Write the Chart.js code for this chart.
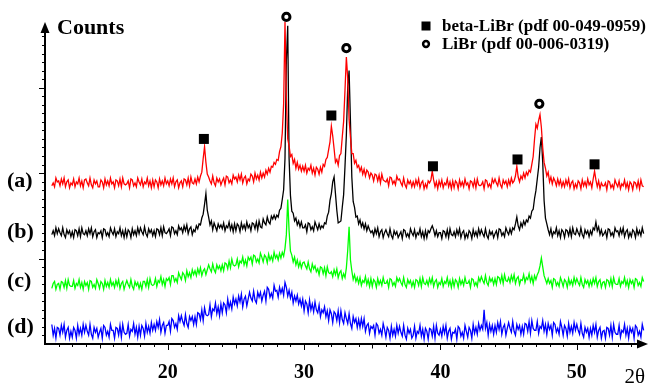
<!DOCTYPE html>
<html><head><meta charset="utf-8">
<script src="https://cdn.jsdelivr.net/npm/chart.js@4/dist/chart.umd.min.js"></script>
<style>html,body{margin:0;padding:0;background:#fff;}#wrap{width:654px;height:384px;}</style>
</head><body><div id="wrap"><canvas id="c" width="654" height="384"></canvas></div>
<script>
// 2-theta angles (degrees), one row per degree
const TWO_THETA = [11.5,11.6,11.7,11.8,11.9,
12,12.1,12.2,12.3,12.4,12.5,12.6,12.7,12.8,12.9,
13,13.1,13.2,13.3,13.4,13.5,13.6,13.7,13.8,13.9,
14,14.1,14.2,14.3,14.4,14.5,14.6,14.7,14.8,14.9,
15,15.1,15.2,15.3,15.4,15.5,15.6,15.7,15.8,15.9,
16,16.1,16.2,16.3,16.4,16.5,16.6,16.7,16.8,16.9,
17,17.1,17.2,17.3,17.4,17.5,17.6,17.7,17.8,17.9,
18,18.1,18.2,18.3,18.4,18.5,18.6,18.7,18.8,18.9,
19,19.1,19.2,19.3,19.4,19.5,19.6,19.7,19.8,19.9,
20,20.1,20.2,20.3,20.4,20.5,20.6,20.7,20.8,20.9,
21,21.1,21.2,21.3,21.4,21.5,21.6,21.7,21.8,21.9,
22,22.1,22.2,22.3,22.4,22.5,22.6,22.7,22.8,22.9,
23,23.1,23.2,23.3,23.4,23.5,23.6,23.7,23.8,23.9,
24,24.1,24.2,24.3,24.4,24.5,24.6,24.7,24.8,24.9,
25,25.1,25.2,25.3,25.4,25.5,25.6,25.7,25.8,25.9,
26,26.1,26.2,26.3,26.4,26.5,26.6,26.7,26.8,26.9,
27,27.1,27.2,27.3,27.4,27.5,27.6,27.7,27.8,27.9,
28,28.1,28.2,28.3,28.4,28.5,28.6,28.7,28.8,28.9,
29,29.1,29.2,29.3,29.4,29.5,29.6,29.7,29.8,29.9,
30,30.1,30.2,30.3,30.4,30.5,30.6,30.7,30.8,30.9,
31,31.1,31.2,31.3,31.4,31.5,31.6,31.7,31.8,31.9,
32,32.1,32.2,32.3,32.4,32.5,32.6,32.7,32.8,32.9,
33,33.1,33.2,33.3,33.4,33.5,33.6,33.7,33.8,33.9,
34,34.1,34.2,34.3,34.4,34.5,34.6,34.7,34.8,34.9,
35,35.1,35.2,35.3,35.4,35.5,35.6,35.7,35.8,35.9,
36,36.1,36.2,36.3,36.4,36.5,36.6,36.7,36.8,36.9,
37,37.1,37.2,37.3,37.4,37.5,37.6,37.7,37.8,37.9,
38,38.1,38.2,38.3,38.4,38.5,38.6,38.7,38.8,38.9,
39,39.1,39.2,39.3,39.4,39.5,39.6,39.7,39.8,39.9,
40,40.1,40.2,40.3,40.4,40.5,40.6,40.7,40.8,40.9,
41,41.1,41.2,41.3,41.4,41.5,41.6,41.7,41.8,41.9,
42,42.1,42.2,42.3,42.4,42.5,42.6,42.7,42.8,42.9,
43,43.1,43.2,43.3,43.4,43.5,43.6,43.7,43.8,43.9,
44,44.1,44.2,44.3,44.4,44.5,44.6,44.7,44.8,44.9,
45,45.1,45.2,45.3,45.4,45.5,45.6,45.7,45.8,45.9,
46,46.1,46.2,46.3,46.4,46.5,46.6,46.7,46.8,46.9,
47,47.1,47.2,47.3,47.4,47.5,47.6,47.7,47.8,47.9,
48,48.1,48.2,48.3,48.4,48.5,48.6,48.7,48.8,48.9,
49,49.1,49.2,49.3,49.4,49.5,49.6,49.7,49.8,49.9,
50,50.1,50.2,50.3,50.4,50.5,50.6,50.7,50.8,50.9,
51,51.1,51.2,51.3,51.4,51.5,51.6,51.7,51.8,51.9,
52,52.1,52.2,52.3,52.4,52.5,52.6,52.7,52.8,52.9,
53,53.1,53.2,53.3,53.4,53.5,53.6,53.7,53.8,53.9,
54,54.1,54.2,54.3,54.4,54.5,54.6,54.7,54.8,54.9];

// (a) red
const SERIES_A = [162,165,161,170,166,
167,162,169,164,170,161,166,168,160,165,
163,169,161,166,164,170,162,167,160,168,
169,165,162,170,163,160,168,164,167,161,
161,168,166,160,169,163,167,162,170,164,
166,160,168,167,162,169,161,170,164,163,
164,167,160,169,168,162,165,161,170,166,
163,169,161,166,164,170,162,167,160,168,
161,168,166,160,169,163,167,162,170,164,
167,162,169,164,170,161,166,168,160,165,
167,161,169,168,163,170,162,171,165,164,
169,164,171,166,172,176,190,202,186,174,
171,167,164,172,165,162,170,166,169,163,
167,170,163,172,171,165,168,164,173,169,
171,166,173,168,174,165,170,172,164,169,
167,174,172,166,175,169,173,168,176,170,
175,171,178,174,180,176,182,181,186,184,
189,188,197,202,216,246,330,252,210,203,
192,194,185,189,180,186,179,183,177,182,
177,183,175,180,178,183,175,180,173,181,
179,174,181,176,184,182,189,191,199,207,
223,213,200,186,189,183,193,195,212,228,
260,294,272,230,212,195,195,185,188,181,
183,177,181,174,179,172,178,176,170,175,
173,167,174,173,167,173,165,174,168,167,
166,169,162,171,170,164,167,163,172,168,
169,165,162,170,163,160,168,164,167,161,
166,161,168,163,169,160,165,167,159,164,
160,167,165,168,177,168,161,166,159,167,
162,168,160,165,163,169,161,166,159,167,
160,167,165,159,168,162,166,161,169,163,
165,159,167,166,161,168,160,169,163,162,
163,166,159,168,167,161,164,160,169,165,
169,165,162,170,163,160,168,164,167,161,
168,163,170,165,167,172,182,171,166,172,
169,175,170,176,173,178,176,184,192,210,
225,221,229,235,222,201,186,180,172,176,
166,171,164,170,167,162,169,163,168,161,
166,161,168,163,169,160,165,167,159,164,
160,167,165,159,168,162,166,161,169,163,
166,160,169,177,168,161,167,159,165,162,
162,165,158,167,166,160,163,159,168,164,
161,167,159,164,162,168,160,165,158,166,
164,158,166,165,160,167,159,168,162,161];

// (b) black
const SERIES_B = [112,116,111,119,113,
118,114,111,119,112,109,117,113,116,110,
115,109,117,116,111,118,110,119,113,112,
116,111,118,113,119,110,115,117,109,114,
113,116,109,118,117,111,114,110,119,115,
112,118,110,115,113,119,111,116,109,117,
110,117,115,109,118,112,116,111,119,113,
119,115,112,120,113,110,118,114,117,111,
116,110,118,117,112,119,111,120,114,113,
115,118,111,120,119,113,116,112,121,117,
119,114,121,116,122,113,118,120,112,117,
115,121,118,123,122,129,133,143,154,137,
130,122,126,117,124,120,116,123,119,122,
118,124,116,121,119,125,117,122,115,123,
116,123,121,115,124,118,122,117,125,119,
122,116,124,123,118,125,117,126,120,119,
128,124,122,130,125,123,131,128,132,128,
132,130,137,139,148,158,190,290,326,190,
152,136,134,126,129,122,126,120,125,119,
119,122,115,124,123,117,120,116,125,121,
117,123,118,121,119,124,123,131,135,147,
154,166,171,154,137,124,125,126,140,153,
182,214,263,280,228,171,146,140,130,131,
123,127,120,124,118,123,116,121,117,114,
116,111,118,113,119,110,115,117,109,114,
117,113,110,118,111,108,116,112,115,109,
112,115,108,117,116,110,113,109,118,114,
111,117,109,114,112,118,110,115,108,116,
109,116,114,118,121,117,111,116,110,114,
114,108,116,115,110,117,109,118,112,111,
115,110,117,112,118,109,114,116,108,113,
109,116,114,108,117,111,115,110,118,112,
117,113,110,118,111,108,116,112,115,109,
113,116,109,118,117,111,114,110,119,115,
112,118,113,119,117,123,130,121,117,124,
120,126,122,127,125,131,129,136,138,149,
157,169,181,201,212,186,147,129,123,117,
112,118,110,115,113,119,111,116,109,117,
115,109,117,116,111,118,110,119,113,112,
118,114,111,119,112,109,117,113,116,110,
116,112,119,117,125,116,120,112,117,111,
113,116,109,118,117,111,114,110,119,115,
116,111,118,113,119,110,115,117,109,114,
110,117,115,109,118,112,116,111,119,113];

// (c) green
const SERIES_C = [57,62,64,56,61,
62,56,64,63,58,65,57,66,60,59,
59,65,57,62,60,66,58,63,56,64,
60,63,56,65,64,58,61,57,66,62,
57,64,62,56,65,59,63,58,66,60,
63,58,65,60,66,57,62,64,56,61,
65,61,58,66,59,56,64,60,63,57,
62,56,64,64,59,66,58,67,61,60,
61,67,59,65,63,69,61,66,59,67,
65,68,61,70,70,64,67,63,73,69,
66,73,71,65,75,69,73,68,76,71,
75,70,77,72,78,70,75,77,71,76,
81,77,74,82,76,73,81,77,80,75,
81,75,83,82,77,85,78,87,81,80,
81,87,79,85,83,89,81,86,80,89,
86,89,82,91,90,84,87,83,93,89,
84,91,89,83,92,86,90,85,94,88,
91,86,93,88,94,90,98,112,148,116,
95,91,84,89,81,86,79,84,78,83,
84,80,77,84,77,74,82,77,80,74,
77,71,79,78,72,78,70,79,73,72,
74,69,76,71,77,68,73,75,67,72,
68,78,96,120,86,75,66,71,64,68,
62,68,60,65,63,69,61,66,59,67,
59,66,64,58,67,61,65,60,68,62,
62,65,58,67,66,60,63,59,68,64,
67,63,60,68,61,58,66,62,65,59,
64,58,66,65,60,67,59,68,62,61,
65,60,67,62,68,59,64,66,58,63,
61,67,59,64,62,68,60,65,58,66,
59,66,64,58,67,61,65,60,68,62,
62,65,58,67,66,60,63,59,68,64,
69,65,62,70,63,60,68,64,67,61,
67,61,69,68,63,70,62,71,65,64,
68,63,70,65,71,62,67,69,61,66,
65,71,63,68,66,72,64,69,62,70,
66,71,74,80,88,79,70,66,62,67,
62,65,58,67,66,60,63,59,68,64,
59,66,64,58,67,61,65,60,68,62,
67,63,60,68,61,58,66,62,65,59,
65,60,67,62,68,59,64,66,58,63,
64,58,66,65,60,67,59,68,62,61,
61,67,59,64,62,68,60,65,58,66,
62,65,58,67,66,60,63,59,68,64];

// (d) blue
const SERIES_D = [20,9,16,6,17,
16,9,19,12,20,7,14,17,6,13,
7,17,14,6,19,10,16,9,20,12,
19,13,9,20,10,6,17,12,16,7,
12,16,6,19,17,9,13,7,20,14,
14,6,17,16,9,19,7,20,12,10,
11,20,8,15,13,21,10,17,7,18,
9,19,16,8,21,12,18,11,22,14,
20,14,23,17,25,12,19,22,11,19,
19,23,13,26,24,17,21,15,29,23,
29,23,19,30,21,17,28,24,28,20,
28,20,32,31,25,35,24,37,30,29,
30,40,28,36,34,42,31,38,29,41,
32,42,40,32,46,37,43,36,48,41,
46,39,49,43,51,38,46,49,39,46,
53,47,44,54,45,42,53,48,53,44,
50,54,44,58,56,48,52,47,60,54,
55,48,58,52,57,50,63,58,49,55,
47,53,42,49,44,50,41,46,39,46,
34,44,41,32,45,35,41,33,43,35,
32,40,28,35,32,38,28,34,24,35,
31,22,33,31,24,34,22,34,25,21,
32,26,21,31,21,16,28,22,26,17,
25,17,26,18,26,13,19,21,11,18,
16,19,9,21,19,11,15,9,21,15,
7,17,14,6,18,9,15,8,19,11,
18,12,8,19,9,5,16,11,15,6,
9,18,6,13,11,19,8,15,5,16,
13,5,16,15,8,18,6,19,11,9,
15,8,18,11,19,6,13,16,5,12,
11,15,5,18,16,8,12,6,19,13,
7,17,14,6,20,11,17,10,21,14,
19,15,35,16,22,9,20,13,19,10,
19,12,22,15,23,10,17,20,9,16,
22,16,12,23,13,9,20,15,19,10,
18,10,21,20,13,23,11,24,16,14,
14,23,11,18,16,24,13,20,10,21,
15,19,9,22,20,12,16,10,23,17,
9,19,16,8,21,12,18,11,22,14,
20,14,10,21,11,7,17,12,16,7,
16,9,19,12,20,7,14,17,6,13,
14,6,17,16,9,19,7,20,12,10,
10,19,7,14,12,20,9,16,6,17,
12,16,6,19,17,9,13,7,20,14];

// peak markers
const BETA_X = [22.65, 32.0, 39.45, 45.65, 51.3];
const BETA_Y = [210, 234, 182, 189, 184];
const LIBR_X = [28.7, 33.1, 47.25];
const LIBR_Y = [335, 303, 246];

const X_TICKS = [20, 30, 40, 50];
const SERIES_LABELS = ['(a)', '(b)', '(c)', '(d)'];
const LEGEND_LABELS = ['beta-LiBr (pdf 00-049-0959)', 'LiBr (pdf 00-006-0319)'];

const SERIF = "'Liberation Serif', 'Times New Roman', serif";
const toXY = (xs, ys) => xs.map((t, i) => ({x: t, y: ys[i]}));

const decor = {
  id: 'decor',
  afterDatasetsDraw(chart) {
    const {ctx, chartArea: a, scales: {x, y}} = chart;
    ctx.save();
    ctx.strokeStyle = '#000';
    ctx.fillStyle = '#000';
    // x axis with arrow
    ctx.lineWidth = 2;
    ctx.beginPath(); ctx.moveTo(a.left - 1, a.bottom); ctx.lineTo(a.right - 5, a.bottom); ctx.stroke();
    ctx.beginPath(); ctx.moveTo(a.right + 3, a.bottom); ctx.lineTo(a.right - 8, a.bottom - 4.5);
    ctx.lineTo(a.right - 8, a.bottom + 4.5); ctx.closePath(); ctx.fill();
    // y axis with arrow
    const tipY = a.top + 10;
    ctx.beginPath(); ctx.moveTo(a.left, a.bottom + 1); ctx.lineTo(a.left, tipY + 6); ctx.stroke();
    ctx.beginPath(); ctx.moveTo(a.left, tipY); ctx.lineTo(a.left - 4.5, tipY + 11);
    ctx.lineTo(a.left + 4.5, tipY + 11); ctx.closePath(); ctx.fill();
    // x ticks
    ctx.lineWidth = 1;
    for (let v = Math.ceil(x.min + 0.5); v < x.max - 0.5; v++) {
      const px = Math.round(x.getPixelForValue(v)) + 0.5;
      const len = v % 10 === 0 ? 6 : (v % 5 === 0 ? 4.5 : 3);
      ctx.beginPath(); ctx.moveTo(px, a.bottom); ctx.lineTo(px, a.bottom + len); ctx.stroke();
    }
    // y ticks
    for (let k = 1; k * 8.75 <= 318; k++) {
      const py = Math.round(y.getPixelForValue(k * 8.75)) + 0.5;
      const len = k % 10 === 0 ? 6 : 3;
      ctx.beginPath(); ctx.moveTo(a.left - len, py); ctx.lineTo(a.left, py); ctx.stroke();
    }
    // texts
    ctx.textAlign = 'left';
    ctx.textBaseline = 'alphabetic';
    ctx.font = 'bold 22px ' + SERIF;
    ctx.fillText('Counts', a.left + 12, a.top + 22);
    const levels = [166, 114, 64, 16];
    SERIES_LABELS.forEach((s, i) => ctx.fillText(s, 7, y.getPixelForValue(levels[i]) + 5));
    ctx.font = '21px ' + SERIF;
    ctx.textAlign = 'right';
    ctx.fillText('2\u03B8', a.right, 383);
    // legend
    ctx.textAlign = 'left';
    ctx.font = 'bold 17px ' + SERIF;
    const lx = 426;
    ctx.fillRect(lx - 4.5, 21.5, 9, 9);
    ctx.fillText(LEGEND_LABELS[0], 442, 31);
    ctx.lineWidth = 2.5;
    ctx.beginPath(); ctx.arc(lx, 44, 2.9, 0, Math.PI * 2); ctx.stroke();
    ctx.fillText(LEGEND_LABELS[1], 442, 49);
    ctx.restore();
  }
};

const lineDs = (label, ys, color, order) => ({
  label, data: toXY(TWO_THETA, ys), borderColor: color, backgroundColor: color,
  borderWidth: 1.3, pointRadius: 0, tension: 0, order
});

new Chart(document.getElementById('c'), {
  type: 'line',
  data: {
    datasets: [
      {label: 'beta-LiBr', data: toXY(BETA_X, BETA_Y), showLine: false, pointStyle: 'rect',
       pointRadius: 7.07, backgroundColor: '#000', borderColor: '#000', borderWidth: 0, clip: false, order: 0},
      {label: 'LiBr', data: toXY(LIBR_X, LIBR_Y), showLine: false, pointStyle: 'circle',
       pointRadius: 3.6, backgroundColor: '#fff', borderColor: '#000', borderWidth: 3, clip: false, order: 0},
      lineDs('(a)', SERIES_A, '#ff0000', 1),
      lineDs('(b)', SERIES_B, '#000000', 2),
      lineDs('(c)', SERIES_C, '#00ff00', 3),
      lineDs('(d)', SERIES_D, '#0000ff', 4)
    ]
  },
  options: {
    responsive: false, animation: false, devicePixelRatio: 1,
    layout: {padding: {left: 45, right: 9, top: 12, bottom: -10}},
    plugins: {legend: {display: false}, tooltip: {enabled: false}},
    events: [],
    scales: {
      x: {type: 'linear', min: 11, max: 55,
          grid: {display: false}, border: {display: false},
          afterBuildTicks: s => { s.ticks = X_TICKS.map(v => ({value: v})); },
          ticks: {color: '#000', padding: 9, maxRotation: 0, autoSkip: false,
                  font: {family: SERIF, size: 20, weight: 'bold'}}},
      y: {display: false, min: 0, max: 340}
    }
  },
  plugins: [decor]
});
</script></body></html>
